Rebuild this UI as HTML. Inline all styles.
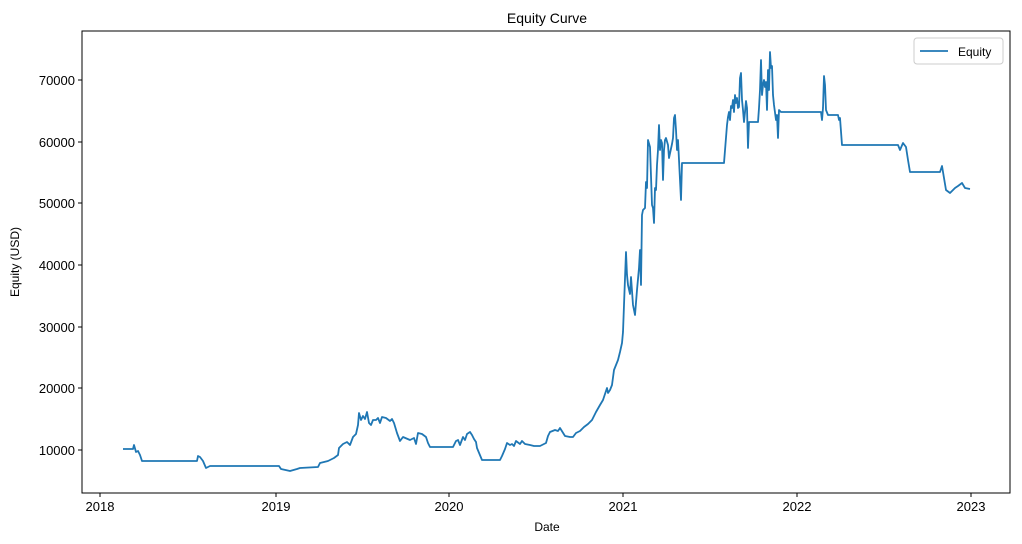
<!DOCTYPE html>
<html><head><meta charset="utf-8"><style>body{margin:0;background:#fff}svg{display:block}text{font-family:"Liberation Sans","Noto Sans CJK JP",sans-serif;fill:#000}</style></head><body>
<svg width="1022" height="544" viewBox="0 0 1022 544">
<rect x="82" y="31" width="928" height="462" fill="none" stroke="#000" stroke-width="1"/>
<text x="547" y="23" font-size="14" text-anchor="middle">Equity Curve</text>
<g font-size="13" text-anchor="middle">
<line x1="100" y1="493" x2="100" y2="497" stroke="#000"/><text x="100" y="511">2018</text>
<line x1="276" y1="493" x2="276" y2="497" stroke="#000"/><text x="276" y="511">2019</text>
<line x1="449" y1="493" x2="449" y2="497" stroke="#000"/><text x="449" y="511">2020</text>
<line x1="623" y1="493" x2="623" y2="497" stroke="#000"/><text x="623" y="511">2021</text>
<line x1="797" y1="493" x2="797" y2="497" stroke="#000"/><text x="797" y="511">2022</text>
<line x1="971" y1="493" x2="971" y2="497" stroke="#000"/><text x="971" y="511">2023</text>
</g>
<text x="547" y="531" font-size="12" text-anchor="middle">Date</text>
<g font-size="13" text-anchor="end">
<line x1="78" y1="450" x2="82" y2="450" stroke="#000"/><text x="75" y="455">10000</text>
<line x1="78" y1="388" x2="82" y2="388" stroke="#000"/><text x="75" y="393">20000</text>
<line x1="78" y1="327" x2="82" y2="327" stroke="#000"/><text x="75" y="332">30000</text>
<line x1="78" y1="265" x2="82" y2="265" stroke="#000"/><text x="75" y="270">40000</text>
<line x1="78" y1="203" x2="82" y2="203" stroke="#000"/><text x="75" y="208">50000</text>
<line x1="78" y1="142" x2="82" y2="142" stroke="#000"/><text x="75" y="147">60000</text>
<line x1="78" y1="80" x2="82" y2="80" stroke="#000"/><text x="75" y="85">70000</text>
</g>
<text transform="translate(19,262) rotate(-90)" font-size="12" text-anchor="middle">Equity (USD)</text>
<polyline fill="none" stroke="#1f77b4" stroke-width="1.8" stroke-linejoin="round" points="123,449 133,449 134,445 136,452 138,451 140,455 142,461 197,461 198,456 200,457 203,461 206,468 210,466 279,466 281,469 290,471 297,469 300,468 318,467 320,463 328,461 334,458 338,455 339,448 343,444 347,442 350,445 353,437 356,434 358,425 359,413 361,420 363,416 365,419 367,412 369,423 371,425 373,420 376,420 378,418 380,423 382,417 386,418 390,421 392,419 394,423 397,433 400,441 403,437 410,440 414,438 416,444 418,433 422,434 426,437 428,443 430,447 432,447 453,447 456,441 458,440 460,445 463,437 465,440 467,434 470,432 472,435 474,439 476,442 477,448 482,460 500,460 502,456 505,449 507,443 510,445 512,444 514,446 516,441 520,444 522,441 525,444 530,445 534,446 540,446 546,443 548,436 550,432 555,430 558,431 560,428 565,436 570,437 573,437 576,433 580,431 584,427 588,424 592,420 594,416 596,412 600,405 603,400 607,388 608,393 610,390 612,385 614,370 618,360 620,352 622,343 623,332 624,305 626,252 627,275 628,285 630,294 631,277 633,305 635,315 637,290 639,268 640,250 641,285 642,215 643,210 645,208 646,182 647,188 648,140 650,147 652,205 653,208 654,223 655,188 656,190 657,165 658,150 659,125 660,150 661,140 662,143 663,180 664,150 665,140 666,138 668,145 669,158 672,144 673,138 674,118 675,115 676,130 677,150 678,140 680,180 681,200 682,163 724,163 727,125 728,117 729,112 730,120 731,106 732,108 733,100 734,112 735,95 736,103 737,98 738,108 739,107 740,78 741,73 742,100 743,110 744,122 745,112 746,101 747,108 748,148 749,122 758,122 759,108 760,90 761,60 762,95 763,85 764,80 765,87 766,82 767,110 768,70 769,90 770,52 771,68 772,66 773,95 774,105 776,120 777,115 778,138 779,110 781,112 821,112 822,120 823,108 824,76 825,85 826,110 828,115 838,115 839,120 840,118 842,145 898,145 900,150 903,143 906,147 908,160 910,172 940,172 942,166 944,178 946,190 950,193 955,188 958,186 962,183 965,188 970,189"/>
<rect x="914" y="38" width="89" height="26" rx="3" fill="#fff" stroke="#ccc"/>
<line x1="920" y1="51" x2="948" y2="51" stroke="#1f77b4" stroke-width="1.8"/>
<text x="958" y="56" font-size="12">Equity</text>
</svg>
</body></html>
